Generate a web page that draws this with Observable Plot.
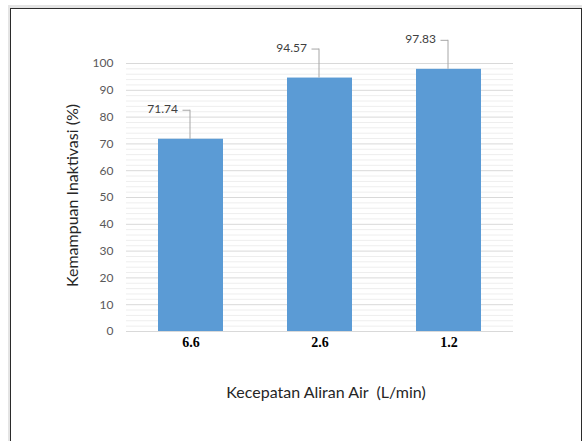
<!DOCTYPE html>
<html>
<head>
<meta charset="utf-8">
<script src="https://cdn.jsdelivr.net/npm/d3@7"></script>
<script src="https://cdn.jsdelivr.net/npm/@observablehq/plot@0.6"></script>
<style>
  html, body { margin: 0; padding: 0; background: #fff; }
  #wrap { position: relative; width: 584px; height: 441px; overflow: hidden; background: #fff; }
  #frame { position: absolute; left: 10px; top: 8px; width: 570px; height: 460px;
           border: 1.5px solid #2b2b2b; box-shadow: -1px -2px 0 1px #e4e4e4; }
  #chart { position: absolute; left: 0; top: 0; }
</style>
</head>
<body>
<div id="wrap"><div id="frame"></div><div id="chart"></div></div>
<script>
const categories = ["6.6", "2.6", "1.2"];
const values = [71.74, 94.57, 97.83];
const yTicks = [0, 10, 20, 30, 40, 50, 60, 70, 80, 90, 100];
const yMinorTicks = d3.range(0, 101, 2).filter(v => v % 10 !== 0);
const yTitle = "Kemampuan Inaktivasi (%)";
const xTitle = "Kecepatan Aliran Air  (L/min)";

const data = categories.map((c, i) => ({cat: c, value: values[i]}));

const W = 584, H = 441;
const mt = 63, mb = 110, ml = 126, mr = 71;
const lift = 29; // px leader height
const liftUnits = lift * 100 / (H - mt - mb);
const sans = "Lato, 'Open Sans', sans-serif";
const serif = "'Liberation Serif', 'DejaVu Serif', serif";

const chart = Plot.plot({
  width: W, height: H,
  marginTop: mt, marginBottom: mb, marginLeft: ml, marginRight: mr,
  style: {background: "transparent", fontFamily: sans},
  x: {domain: categories, paddingInner: 0.5, paddingOuter: 0.25, axis: null},
  y: {domain: [0, 100], axis: null},
  marks: [
    Plot.ruleY(yMinorTicks, {stroke: "#eeeeee", strokeWidth: 1}),
    Plot.ruleY(yTicks, {stroke: "#d9d9d9", strokeWidth: 1}),
    Plot.axisY({ticks: yTicks, tickSize: 0, tickPadding: 13, fontSize: 12, fill: "#595959", fontFamily: sans, label: null}),
    Plot.text(categories, {x: d => d, frameAnchor: "bottom", text: d => d, dy: 15, fontSize: 14, fontWeight: "bold", fill: "#000", fontFamily: serif}),
    Plot.barY(data, {x: "cat", y: "value", fill: "#5b9bd5"}),
    Plot.ruleX(data, {x: "cat", y1: "value", y2: d => d.value + liftUnits, stroke: "#a6a6a6", strokeWidth: 1, dx: -1}),
    Plot.tickY(data, {x: "cat", y: d => d.value + liftUnits, stroke: "#a6a6a6", strokeWidth: 1, insetLeft: 24.5, insetRight: 33}),
    Plot.text(data, {x: "cat", y: d => d.value + liftUnits, text: d => d.value.toFixed(2), textAnchor: "end", dx: -13, dy: -1, fontSize: 12, fill: "#404040", fontFamily: sans}),
    Plot.text([yTitle], {frameAnchor: "left", textAnchor: "middle", text: d => d, rotate: -90, dx: -54, dy: -2, fontSize: 16, fill: "#262626", fontFamily: sans}),
    Plot.text([xTitle], {frameAnchor: "bottom", textAnchor: "middle", text: d => d, dx: 6, dy: 66, fontSize: 16, fill: "#262626", fontFamily: sans})
  ]
});
document.getElementById("chart").appendChild(chart);
</script>
</body>
</html>
